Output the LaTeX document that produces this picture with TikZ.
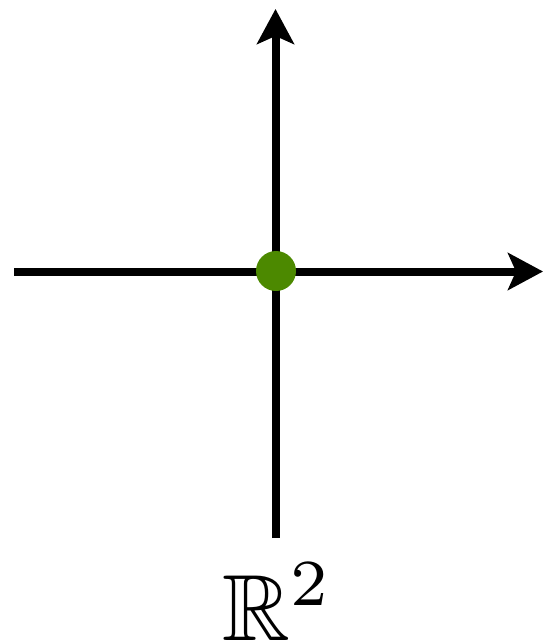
\documentclass[tikz,border=0pt]{standalone}
\usepackage{amssymb}
\usetikzlibrary{arrows.meta}
\definecolor{dotgreen}{RGB}{76,137,0}
\begin{document}
\begin{tikzpicture}[x=1pt,y=-1pt,
  axis/.style={line width=8pt,-{Stealth[length=35pt,width=37pt,inset=8pt]}},
  dot/.style={circle,fill=dotgreen,minimum size=40pt,inner sep=0pt},
  lbl/.style={inner sep=0pt,anchor=base}]
\useasboundingbox (0,0) rectangle (546,642);
\coordinate (left) at (14,271.5);
\coordinate (right) at (543,271.5);
\coordinate (bottom) at (275.5,538);
\coordinate (top) at (275.5,9);
\draw[axis] (left) -- (right);
\draw[axis] (bottom) -- (top);
\node[dot] (o) at (276,271) {};
\node[lbl] (r2) at (278,640) {\scalebox{9.4}{$\mathbb{R}^2$}};
\end{tikzpicture}
\end{document}
